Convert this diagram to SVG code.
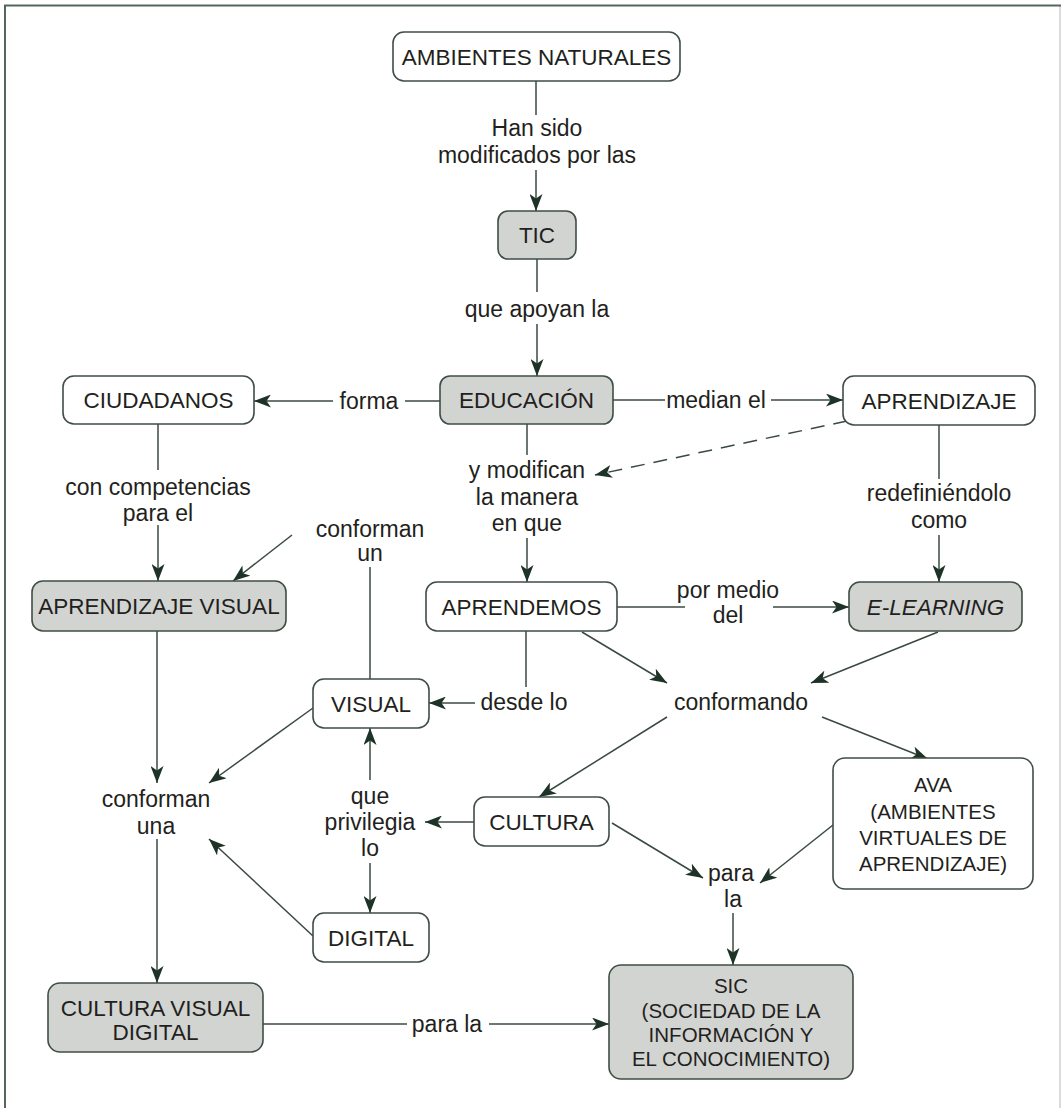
<svg xmlns="http://www.w3.org/2000/svg" width="1061" height="1108" viewBox="0 0 1061 1108">
<style>
.n rect{stroke:#3f4e45;stroke-width:1.6;}
.w rect{fill:#ffffff;}
.g rect{fill:#d2d4d1;}
text{font-family:"Liberation Sans",Arial,sans-serif;fill:#231f20;text-anchor:middle;}
.nt{font-size:22.5px;}
.mt{font-size:20.5px;}
.lt{font-size:23px;}
.c line{stroke:#3a4a40;stroke-width:1.5;fill:none;}
.c .a{marker-end:url(#ah);}
.c .d{stroke-dasharray:14 9;}
</style>
<defs>
<marker id="ah" markerUnits="userSpaceOnUse" markerWidth="17" markerHeight="13" refX="17" refY="6.5" orient="auto">
<path d="M0,0 L17,6.5 L0,13 L4.5,6.5 Z" fill="#1e3327"/>
</marker>
</defs>
<rect width="1061" height="1108" fill="#ffffff"/>
<g id="frame">
<line x1="1060" y1="6" x2="1060" y2="1108" stroke="#cfcfcf" stroke-width="1.5"/>
<line x1="4" y1="5.5" x2="1061" y2="5.5" stroke="#56665a" stroke-width="2"/>
<line x1="5" y1="5" x2="5" y2="1108" stroke="#56665a" stroke-width="2"/>
</g>
<g id="connectors" class="c">
<line x1="536" y1="81" x2="536" y2="115"/>
<line class="a" x1="536" y1="170" x2="536" y2="211"/>
<line x1="537" y1="259" x2="537" y2="292"/>
<line class="a" x1="537" y1="324" x2="537" y2="376"/>
<line x1="440" y1="401" x2="405" y2="401"/>
<line class="a" x1="333" y1="401" x2="254" y2="401"/>
<line x1="613" y1="400" x2="665" y2="400"/>
<line class="a" x1="771" y1="400" x2="843" y2="400"/>
<line x1="527" y1="424" x2="527" y2="455"/>
<line class="a" x1="527" y1="538" x2="527" y2="582"/>
<line class="a d" x1="847" y1="421" x2="595" y2="475"/>
<line x1="939" y1="425" x2="939" y2="479"/>
<line class="a" x1="939" y1="535" x2="939" y2="582"/>
<line x1="158" y1="424" x2="158" y2="470"/>
<line class="a" x1="158" y1="525" x2="158" y2="581"/>
<line x1="370" y1="679" x2="370" y2="567"/>
<line class="a" x1="292" y1="535" x2="233" y2="581"/>
<line x1="617" y1="607" x2="685" y2="607"/>
<line class="a" x1="773" y1="607" x2="849" y2="607"/>
<line x1="526" y1="631" x2="526" y2="687"/>
<line class="a" x1="475" y1="703" x2="429" y2="703"/>
<line class="a" x1="582" y1="632" x2="667" y2="683"/>
<line class="a" x1="938" y1="632" x2="811" y2="683"/>
<line class="a" x1="667" y1="717" x2="539" y2="797"/>
<line class="a" x1="822" y1="717" x2="928" y2="759"/>
<line class="a" x1="474" y1="822" x2="425" y2="822"/>
<line class="a" x1="370" y1="780" x2="370" y2="728"/>
<line class="a" x1="370" y1="863" x2="370" y2="913"/>
<line class="a" x1="313" y1="708" x2="209" y2="783"/>
<line class="a" x1="313" y1="936" x2="209" y2="839"/>
<line class="a" x1="157" y1="631" x2="157" y2="783"/>
<line class="a" x1="157" y1="839" x2="157" y2="983"/>
<line x1="263" y1="1024" x2="407" y2="1024"/>
<line class="a" x1="489" y1="1024" x2="609" y2="1024"/>
<line class="a" x1="612" y1="823" x2="703" y2="878"/>
<line class="a" x1="833" y1="825" x2="760" y2="883"/>
<line class="a" x1="733" y1="913" x2="733" y2="965"/>
</g>
<g id="labels">
<text class="lt" x="537" y="136">Han sido</text>
<text class="lt" x="537" y="163">modificados por las</text>
<text class="lt" x="537" y="317">que apoyan la</text>
<text class="lt" x="369" y="409">forma</text>
<text class="lt" x="716" y="408">median el</text>
<text class="lt" x="527" y="478">y modifican</text>
<text class="lt" x="527" y="505">la manera</text>
<text class="lt" x="527" y="531">en que</text>
<text class="lt" x="939" y="501">redefiniéndolo</text>
<text class="lt" x="939" y="528">como</text>
<text class="lt" x="158" y="495">con competencias</text>
<text class="lt" x="158" y="521">para el</text>
<text class="lt" x="370" y="537">conforman</text>
<text class="lt" x="370" y="561">un</text>
<text class="lt" x="728" y="598">por medio</text>
<text class="lt" x="728" y="623">del</text>
<text class="lt" x="524" y="710">desde lo</text>
<text class="lt" x="741" y="710">conformando</text>
<text class="lt" x="370" y="804">que</text>
<text class="lt" x="370" y="830">privilegia</text>
<text class="lt" x="370" y="856">lo</text>
<text class="lt" x="156" y="807">conforman</text>
<text class="lt" x="156" y="834">una</text>
<text class="lt" x="731" y="881">para</text>
<text class="lt" x="733" y="907">la</text>
<text class="lt" x="447" y="1032">para la</text>
</g>
<g id="n-ambientes" class="n w"><rect x="393" y="32" width="287" height="49" rx="11"/><text class="nt" x="536.5" y="64.5">AMBIENTES NATURALES</text></g>
<g id="n-tic" class="n g"><rect x="498" y="211" width="78" height="48" rx="10"/><text class="nt" x="537" y="243">TIC</text></g>
<g id="n-educacion" class="n g"><rect x="440" y="376" width="173" height="48" rx="10"/><text class="nt" x="526.5" y="408">EDUCACIÓN</text></g>
<g id="n-ciudadanos" class="n w"><rect x="63" y="376" width="191" height="48" rx="11"/><text class="nt" x="158.5" y="408">CIUDADANOS</text></g>
<g id="n-aprendizaje" class="n w"><rect x="843" y="376" width="192" height="49" rx="11"/><text class="nt" x="939" y="408.5">APRENDIZAJE</text></g>
<g id="n-aprendizaje-visual" class="n g"><rect x="32" y="581" width="254" height="50" rx="11"/><text class="nt" x="159" y="614">APRENDIZAJE VISUAL</text></g>
<g id="n-aprendemos" class="n w"><rect x="426" y="582" width="191" height="49" rx="11"/><text class="nt" x="521.5" y="614.5">APRENDEMOS</text></g>
<g id="n-elearning" class="n g"><rect x="849" y="582" width="173" height="49" rx="11"/><text class="nt" x="935.5" y="614.5" font-style="italic">E-LEARNING</text></g>
<g id="n-visual" class="n w"><rect x="313" y="679" width="116" height="49" rx="11"/><text class="nt" x="371" y="711.5">VISUAL</text></g>
<g id="n-cultura" class="n w"><rect x="474" y="797" width="135" height="49" rx="11"/><text class="nt" x="541.5" y="829.5">CULTURA</text></g>
<g id="n-ava" class="n w"><rect x="833" y="758" width="200" height="131" rx="12"/><text class="mt" x="933" y="792">AVA</text><text class="mt" x="933" y="819">(AMBIENTES</text><text class="mt" x="933" y="845">VIRTUALES DE</text><text class="mt" x="933" y="871">APRENDIZAJE)</text></g>
<g id="n-digital" class="n w"><rect x="313" y="913" width="116" height="49" rx="11"/><text class="nt" x="371" y="945.5">DIGITAL</text></g>
<g id="n-cvd" class="n g"><rect x="48" y="983" width="215" height="69" rx="12"/><text class="nt" x="155.5" y="1016">CULTURA VISUAL</text><text class="nt" x="155.5" y="1040">DIGITAL</text></g>
<g id="n-sic" class="n g"><rect x="609" y="965" width="244" height="114" rx="12"/><text class="mt" x="731" y="993">SIC</text><text class="mt" x="731" y="1018">(SOCIEDAD DE LA</text><text class="mt" x="731" y="1042">INFORMACIÓN Y</text><text class="mt" x="731" y="1066">EL CONOCIMIENTO)</text></g>
</svg>
